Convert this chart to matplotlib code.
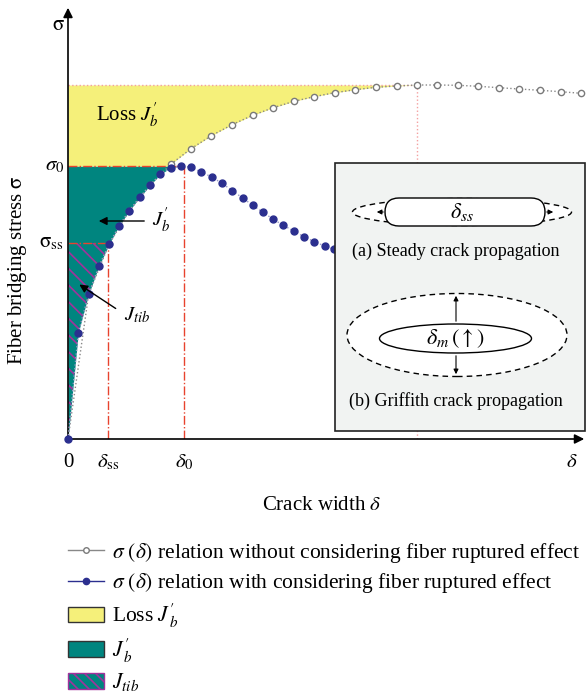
import numpy as np
import matplotlib
matplotlib.use("Agg")
import matplotlib.pyplot as plt
from matplotlib.patches import Rectangle, Ellipse, FancyBboxPatch, Patch
from matplotlib.lines import Line2D

plt.rcParams['font.family'] = ['Liberation Serif', 'DejaVu Serif']
plt.rcParams['mathtext.fontset'] = 'stix'
plt.rcParams['hatch.linewidth'] = 1.2

# curve with fiber rupture (blue, filled dots)
blue_x = [0, 10.3, 20.7, 31, 41, 51, 61.3, 72, 82, 92.3, 102.7, 113, 123, 133.3,
          143.7, 154, 164.3, 174.7, 184.7, 195, 205.3, 215.3, 225.7, 236, 246.3,
          256.7, 266.3]
blue_y = [0, 106.3, 145, 173, 194.7, 213, 228.3, 242, 253.7, 264.7, 271.3, 273,
          271.7, 267, 262, 255.7, 248.3, 241, 233.7, 226.7, 219.7, 213.7, 208,
          202.3, 197.3, 193, 189.7]

# curve without fiber rupture (grey, hollow dots)
grey_x = [0, 20.7, 41, 61.3, 82, 102.7, 123, 143.3, 164, 184.7, 205.3, 226, 246,
          266.7, 287.3, 308, 328.7, 348.7, 369.3, 390, 410.3, 431, 451.3, 472,
          492.7, 513]
grey_y = [0, 145, 194.7, 228.3, 253.7, 274.7, 290.3, 303.3, 314.3, 323.7, 331.3,
          337.7, 342.3, 346.3, 349.3, 351.7, 353, 354, 354, 353.7, 352.7, 351.3,
          350, 348.7, 347.3, 345.7]

sigma_0, delta_0 = 273, 116
sigma_ss, delta_ss = 196, 40.3
sigma_max, delta_max = 354, 348.7

fig = plt.figure(figsize=(5.88, 6.96), dpi=100)
ax = fig.add_axes([68 / 588, 1 - 439 / 696, 520 / 588, 439 / 696])
ax.set_xlim(0, 520)
ax.set_ylim(0, 439)
ax.axis('off')

yellow = '#F5F07A'
teal = '#00857F'
magenta = '#A2329C'
navy = '#2B2F8F'
red = '#E8432E'
pink = '#F4A0A0'

# filled areas
n_rise = blue_y.index(max(blue_y)) + 1
rx, ry = blue_x[:n_rise], blue_y[:n_rise]
y1 = np.linspace(0, sigma_0, 200)
ax.fill_betweenx(y1, 0, np.interp(y1, ry, rx), color=teal, lw=0, zorder=1)
y2 = np.linspace(0, sigma_ss, 200)
ax.fill_betweenx(y2, 0, np.interp(y2, ry, rx), facecolor='none', edgecolor=magenta,
                 hatch='\\\\', lw=0, zorder=1.5)
g_rise = grey_y.index(max(grey_y)) + 1
gx, gy = grey_x[:g_rise], grey_y[:g_rise]
y3 = np.linspace(sigma_0, sigma_max, 200)
ax.fill_betweenx(y3, 0, np.interp(y3, gy, gx), color=yellow, lw=0, zorder=1)

# guide lines
ax.plot([0, delta_max], [sigma_max, sigma_max], ls=':', color=pink, lw=1, zorder=2)
ax.plot([delta_max, delta_max], [0, sigma_max], ls=':', color=pink, lw=1, zorder=2)
ax.plot([0, delta_0], [sigma_0, sigma_0], ls='-.', color=red, lw=1, zorder=2)
ax.plot([delta_0, delta_0], [0, sigma_0], ls='-.', color=red, lw=1, zorder=2)
ax.plot([0, delta_ss], [sigma_ss, sigma_ss], ls='-.', color=red, lw=1, zorder=2)
ax.plot([delta_ss, delta_ss], [0, sigma_ss], ls='-.', color=red, lw=1, zorder=2)

# curves
ax.plot(grey_x, grey_y, ls=':', color='#888888', lw=1, marker='o', ms=4.5,
        mfc='white', mec='#7a7a7a', mew=1, zorder=3)
ax.plot(blue_x, blue_y, ls=':', color='#9a9ac8', lw=1, marker='o', ms=5,
        mfc=navy, mec=navy, zorder=4, clip_on=False)

# axes arrows
arr = dict(arrowstyle='-|>', color='black', lw=1.2, mutation_scale=14)
ax.annotate('', xy=(519, 0), xytext=(0, 0), arrowprops=arr, annotation_clip=False)
ax.annotate('', xy=(0, 434), xytext=(0, 0), arrowprops=arr, annotation_clip=False)

fs = 15
ax.text(0, -23, '0', ha='center', va='center', fontsize=fs)
ax.text(delta_ss, -23, r'$\delta_{\rm ss}$', ha='center', va='center', fontsize=fs)
ax.text(delta_0, -23, r'$\delta_0$', ha='center', va='center', fontsize=fs)
ax.text(504, -23, r'$\delta$', ha='center', va='center', fontsize=fs)
ax.text(-10, 414, r'$\mathrm{\sigma}$', ha='center', va='center', fontsize=fs)
ax.text(-4, sigma_0, r'$\sigma_0$', ha='right', va='center', fontsize=fs)
ax.text(-4, sigma_ss, r'$\mathrm{\sigma}_{\rm ss}$', ha='right', va='center', fontsize=fs)
ax.text(-50, 169, r'Fiber bridging stress $\mathrm{\sigma}$', rotation=90,
        ha='center', va='center', fontsize=fs)
ax.text(254, -66, r'Crack width $\delta$', ha='center', va='center', fontsize=fs)

# annotations in plot
ax.text(59, 324, r"Loss $J^{\prime}_{b}$", ha='center', va='center', fontsize=fs, zorder=6)
ax.text(84, 219, r"$J^{\prime}_{b}$", ha='left', va='center', fontsize=fs, zorder=6)
ax.annotate('', xy=(28, 218), xytext=(79, 218),
            arrowprops=dict(arrowstyle='-|>', color='black', lw=1, mutation_scale=12),
            zorder=6)
ax.text(56, 124, r'$J_{tib}$', ha='left', va='center', fontsize=fs, zorder=6)
ax.annotate('', xy=(9, 156), xytext=(50, 129),
            arrowprops=dict(arrowstyle='-|>', color='black', lw=1, mutation_scale=12),
            zorder=6)

# inset box
ax.add_patch(Rectangle((267, 8), 250, 268, fc='#F1F3F2', ec='#222222', lw=1.2,
                       zorder=5, clip_on=False))
ax.add_patch(Ellipse((394, 227), 219, 27, fc='white', ec='black', ls=(0, (4, 3)),
                     lw=1, zorder=6))
ax.add_patch(FancyBboxPatch((317, 213), 160, 28, boxstyle='round,pad=0,rounding_size=14',
                            fc='white', ec='black', lw=1, zorder=7))
small = dict(arrowstyle='-|>', color='black', lw=0.8, mutation_scale=7)
ax.annotate('', xy=(306, 227), xytext=(318, 227), arrowprops=small, zorder=8)
ax.annotate('', xy=(488, 227), xytext=(476, 227), arrowprops=small, zorder=8)
ax.text(394, 227, r'$\delta_{ss}$', ha='center', va='center', fontsize=16, zorder=8)
ax.text(388, 188, '(a) Steady crack propagation', ha='center', va='center',
        fontsize=13, zorder=8)

ax.add_patch(Ellipse((389, 104), 220, 83, fc='white', ec='black', ls=(0, (4, 3)),
                     lw=1, zorder=6))
ax.add_patch(Ellipse((387.5, 100.5), 152, 29, fc='white', ec='black', lw=1, zorder=7))
ax.annotate('', xy=(388, 146), xytext=(388, 115), arrowprops=small, zorder=8)
ax.annotate('', xy=(388, 62), xytext=(388, 86), arrowprops=small, zorder=8)
ax.text(387, 100, r'$\delta_m\,(\uparrow)$', ha='center', va='center', fontsize=16, zorder=8)
ax.text(388, 38, '(b) Griffith crack propagation', ha='center', va='center',
        fontsize=13, zorder=8)

# legend
handles = [
    Line2D([], [], color='#888888', lw=1, marker='o', ms=4, mfc='white', mec='#7a7a7a'),
    Line2D([], [], color=navy, lw=1, marker='o', ms=4.5, mfc=navy, mec=navy),
    Patch(fc=yellow, ec='#333333', lw=1),
    Patch(fc=teal, ec='#333333', lw=1),
    Patch(fc=teal, ec=magenta, hatch='\\\\\\', lw=1),
]
labels = [
    r'$\sigma\ (\delta)$ relation without considering fiber ruptured effect',
    r'$\sigma\ (\delta)$ relation with considering fiber ruptured effect',
    r"Loss $J^{\prime}_{\,b}$",
    r"$J^{\prime}_{\,b}$",
    r'$J_{tib}$',
]
leg = fig.legend(handles, labels, loc='upper left', bbox_to_anchor=(68 / 588, 1 - 541 / 696),
                 frameon=False, fontsize=15.5, handlelength=1.65, handleheight=0.75,
                 labelspacing=0.3, handletextpad=0.4, borderpad=0, borderaxespad=0)
for h in leg.legend_handles[2:]:
    h.set_edgecolor('#333333')
leg.legend_handles[4].set_edgecolor(magenta)

fig.savefig('out.png', dpi=100)
